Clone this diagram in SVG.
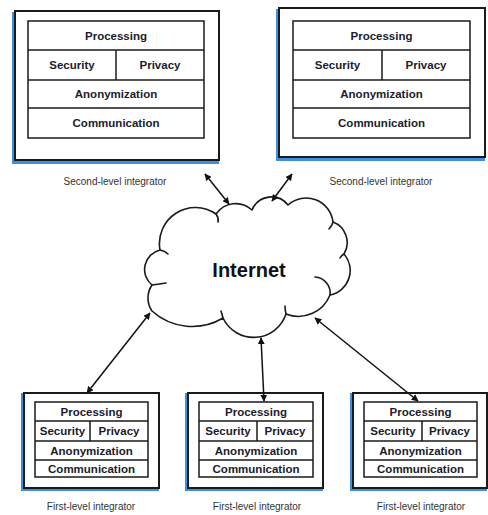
<svg xmlns="http://www.w3.org/2000/svg" width="488" height="515" viewBox="0 0 488 515">
  <defs>
    <marker id="head" viewBox="0 0 10 10" refX="9" refY="5" markerWidth="7" markerHeight="7" markerUnits="userSpaceOnUse" orient="auto-start-reverse">
      <path d="M0,0 L10,5 L0,10 z" fill="#111"/>
    </marker>
  </defs>
  <style>
    .shadow { fill: none; stroke: #3f8fe0; stroke-width: 3; }
    .frame { fill: #fff; stroke: #1a1a1a; stroke-width: 2; }
    .grid { fill: #fff; stroke: #1a1a1a; stroke-width: 1.5; }
    .rule { stroke: #1a1a1a; stroke-width: 1.5; }
    .layer { font-family: "Liberation Sans", Arial, sans-serif; font-weight: bold; font-size: 11.5px; fill: #1c1c2c; text-anchor: middle; }
    .caption { font-family: "Liberation Sans", Arial, sans-serif; font-size: 10px; fill: #333; text-anchor: middle; }
    .cloud { fill: #fff; stroke: #1a1a1a; stroke-width: 1.6; stroke-linejoin: round; }
    .curl { fill: none; stroke: #1a1a1a; stroke-width: 1.6; stroke-linecap: round; }
    .net { font-family: "Liberation Sans", Arial, sans-serif; font-weight: bold; font-size: 20px; fill: #111; text-anchor: middle; }
    .link { stroke: #111; stroke-width: 1.5; fill: none; marker-start: url(#head); marker-end: url(#head); }
  </style>

  <!-- Internet cloud -->
  <g id="internet">
    <path class="cloud" d="M152,285 A20,20 0 0 1 160,250 A36,36 0 0 1 216,214 A24,24 0 0 1 252,210 A21,21 0 0 1 288,205 A27,27 0 0 1 333,222 A22,22 0 0 1 344,254 A25,25 0 0 1 330,295 A34,34 0 0 1 286,314 A34,34 0 0 1 223,318 A60,60 0 0 1 152,311 A23,23 0 0 1 152,285 Z"/>
    <path class="curl" d="M216,214 Q219,218 218,222"/>
    <path class="curl" d="M160,250 Q165,251 168,254"/>
    <path class="curl" d="M333,222 Q332,226 329,229"/>
    <path class="curl" d="M344,254 Q341,256 340,258"/>
    <path class="curl" d="M330,295 A16,16 0 0 0 315,277"/>
    <path class="curl" d="M286,314 Q285,310 285,306"/>
    <path class="curl" d="M223,318 Q222,314 221,311"/>
    <path class="curl" d="M152,285 Q160,284 166,283"/>
    <text class="net" x="249" y="277">Internet</text>
  </g>

  <!-- Second-level integrator, left -->
  <g id="second-level-1">
    <rect class="shadow" x="13.5" y="13.5" width="204" height="149"/>
    <rect class="frame" x="15" y="11" width="204" height="149"/>
    <rect class="grid" x="28" y="21" width="176" height="117"/>
    <line class="rule" x1="28" y1="50" x2="204" y2="50"/>
    <line class="rule" x1="28" y1="80" x2="204" y2="80"/>
    <line class="rule" x1="28" y1="108" x2="204" y2="108"/>
    <line class="rule" x1="116" y1="50" x2="116" y2="80"/>
    <text class="layer" x="116" y="39.5">Processing</text>
    <text class="layer" x="72" y="69">Security</text>
    <text class="layer" x="160" y="69">Privacy</text>
    <text class="layer" x="116" y="98">Anonymization</text>
    <text class="layer" x="116" y="127">Communication</text>
    <text class="caption" x="115" y="185">Second-level integrator</text>
  </g>

  <!-- Second-level integrator, right -->
  <g id="second-level-2">
    <rect class="shadow" x="277.5" y="10.5" width="206" height="149"/>
    <rect class="frame" x="279" y="8" width="206" height="149"/>
    <rect class="grid" x="293" y="21" width="177" height="117"/>
    <line class="rule" x1="293" y1="50" x2="470" y2="50"/>
    <line class="rule" x1="293" y1="80" x2="470" y2="80"/>
    <line class="rule" x1="293" y1="108" x2="470" y2="108"/>
    <line class="rule" x1="382" y1="50" x2="382" y2="80"/>
    <text class="layer" x="381.5" y="39.5">Processing</text>
    <text class="layer" x="337.5" y="69">Security</text>
    <text class="layer" x="426" y="69">Privacy</text>
    <text class="layer" x="381.5" y="98">Anonymization</text>
    <text class="layer" x="381.5" y="127">Communication</text>
    <text class="caption" x="381" y="185">Second-level integrator</text>
  </g>

  <!-- First-level integrator, left -->
  <g id="first-level-1">
    <rect class="shadow" x="22.5" y="394.5" width="135" height="95"/>
    <rect class="frame" x="24" y="393" width="135" height="95"/>
    <rect class="grid" x="35" y="402" width="113" height="75"/>
    <line class="rule" x1="35" y1="421" x2="148" y2="421"/>
    <line class="rule" x1="35" y1="441" x2="148" y2="441"/>
    <line class="rule" x1="35" y1="460" x2="148" y2="460"/>
    <line class="rule" x1="90" y1="421" x2="90" y2="441"/>
    <text class="layer" x="91.5" y="415.5">Processing</text>
    <text class="layer" x="62.5" y="435">Security</text>
    <text class="layer" x="119" y="435">Privacy</text>
    <text class="layer" x="91.5" y="454.5">Anonymization</text>
    <text class="layer" x="91.5" y="472.5">Communication</text>
    <text class="caption" x="91" y="510">First-level integrator</text>
  </g>

  <!-- First-level integrator, middle -->
  <g id="first-level-2">
    <rect class="shadow" x="186.5" y="394.5" width="135" height="95"/>
    <rect class="frame" x="188" y="393" width="135" height="95"/>
    <rect class="grid" x="199" y="402" width="114" height="75"/>
    <line class="rule" x1="199" y1="421" x2="313" y2="421"/>
    <line class="rule" x1="199" y1="441" x2="313" y2="441"/>
    <line class="rule" x1="199" y1="460" x2="313" y2="460"/>
    <line class="rule" x1="257" y1="421" x2="257" y2="441"/>
    <text class="layer" x="256" y="415.5">Processing</text>
    <text class="layer" x="228" y="435">Security</text>
    <text class="layer" x="285" y="435">Privacy</text>
    <text class="layer" x="256" y="454.5">Anonymization</text>
    <text class="layer" x="256" y="472.5">Communication</text>
    <text class="caption" x="257" y="510">First-level integrator</text>
  </g>

  <!-- First-level integrator, right -->
  <g id="first-level-3">
    <rect class="shadow" x="351.5" y="394.5" width="134" height="95"/>
    <rect class="frame" x="353" y="393" width="134" height="95"/>
    <rect class="grid" x="364" y="402" width="113" height="75"/>
    <line class="rule" x1="364" y1="421" x2="477" y2="421"/>
    <line class="rule" x1="364" y1="441" x2="477" y2="441"/>
    <line class="rule" x1="364" y1="460" x2="477" y2="460"/>
    <line class="rule" x1="422" y1="421" x2="422" y2="441"/>
    <text class="layer" x="420.5" y="415.5">Processing</text>
    <text class="layer" x="393" y="435">Security</text>
    <text class="layer" x="449.5" y="435">Privacy</text>
    <text class="layer" x="420.5" y="454.5">Anonymization</text>
    <text class="layer" x="420.5" y="472.5">Communication</text>
    <text class="caption" x="421" y="510">First-level integrator</text>
  </g>

  <!-- Connectors -->
  <g id="connectors">
    <line class="link" x1="205" y1="174" x2="229" y2="204"/>
    <line class="link" x1="292" y1="174" x2="272" y2="201"/>
    <line class="link" x1="150" y1="313" x2="87" y2="393"/>
    <line class="link" x1="261" y1="338" x2="264" y2="401"/>
    <line class="link" x1="315" y1="318" x2="418" y2="401"/>
  </g>
</svg>
